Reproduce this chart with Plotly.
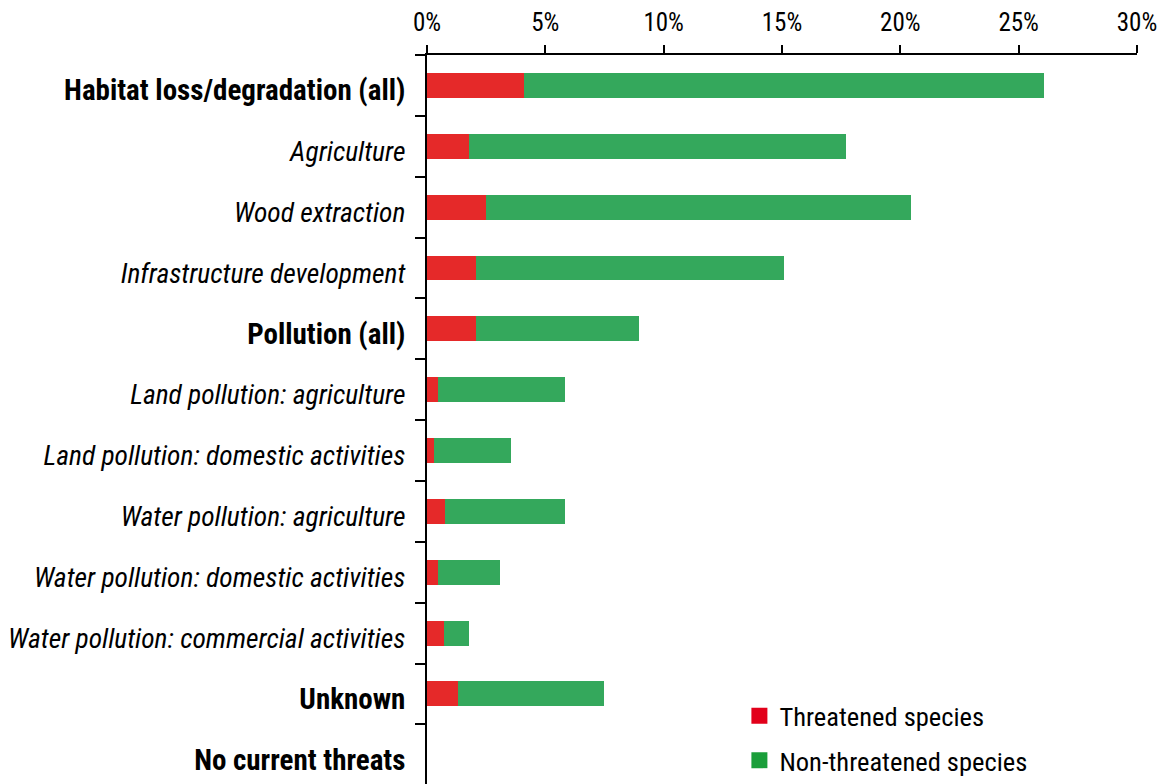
import plotly.graph_objects as go

# Share of species affected by each threat (%)
threats = [
    "Habitat loss/degradation (all)",
    "Agriculture",
    "Wood extraction",
    "Infrastructure development",
    "Pollution (all)",
    "Land pollution: agriculture",
    "Land pollution: domestic activities",
    "Water pollution: agriculture",
    "Water pollution: domestic activities",
    "Water pollution: commercial activities",
    "Unknown",
    "No current threats",
]
# True for top-level threat groups (bold), False for sub-threats (italic)
is_group = [True, False, False, False, True, False, False, False, False, False, True, True]

threatened = [4.09, 1.78, 2.48, 2.06, 2.06, 0.45, 0.28, 0.75, 0.45, 0.70, 1.30, 0.0]
non_threatened = [21.98, 15.92, 17.96, 13.02, 6.88, 5.40, 3.26, 5.10, 2.62, 1.06, 6.17, 0.0]

x_ticks = [0, 5, 10, 15, 20, 25, 30]

FONT = "Roboto Condensed, Liberation Sans Narrow, Arial Narrow, Roboto, sans-serif"

labels = [
    f"<span style='font-size:29px'><b>{t}</b></span>" if g
    else f"<span style='font-size:27.5px'><i>{t}</i></span>"
    for t, g in zip(threats, is_group)
]

fig = go.Figure()
fig.add_trace(go.Bar(
    y=labels, x=threatened, orientation="h", name="Threatened species",
    marker=dict(color="#E52929", line=dict(width=0)), showlegend=False,
))
fig.add_trace(go.Bar(
    y=labels, x=non_threatened, orientation="h", name="Non-threatened species",
    marker=dict(color="#34A85C", line=dict(width=0)), showlegend=False,
))
# legend keys
fig.add_trace(go.Scatter(
    x=[None], y=[None], mode="markers", name="Threatened species",
    marker=dict(symbol="square", size=16, color="#E2001A"), legendgroup="a",
))
fig.add_trace(go.Scatter(
    x=[None], y=[None], mode="markers", name="Non-threatened species",
    marker=dict(symbol="square", size=16, color="#1A9E3A"), legendgroup="b",
))

fig.update_layout(
    width=1164, height=784,
    barmode="stack", bargap=0.59,
    plot_bgcolor="white", paper_bgcolor="white",
    margin=dict(l=427, r=27, t=55, b=0, pad=0, autoexpand=False),
    font=dict(family=FONT, color="black", size=22),
    legend=dict(
        x=0.440, y=0.1262, xanchor="left", yanchor="top",
        font=dict(size=26.5, family=FONT, color="black"),
        tracegroupgap=7, bgcolor="rgba(0,0,0,0)", borderwidth=0,
    ),
    xaxis=dict(
        side="top", range=[0, 30], tickvals=x_ticks,
        ticktext=[f"{v}%" for v in x_ticks],
        showline=True, linecolor="black", linewidth=2,
        ticks="outside", ticklen=8, tickwidth=2, tickcolor="black",
        showgrid=False, zeroline=False, ticklabelstandoff=4,
        tickfont=dict(size=25, family=FONT),
    ),
    yaxis=dict(
        type="category", range=[11.48, -0.5],
        showline=True, linecolor="black", linewidth=2,
        ticks="outside", ticklen=10, tickwidth=2, tickcolor="black",
        tickson="boundaries", showgrid=False, zeroline=False,
        ticklabelstandoff=14, ticklabelshift=-5,
        tickfont=dict(size=28, family=FONT),
    ),
)

fig.write_html("out.html")
